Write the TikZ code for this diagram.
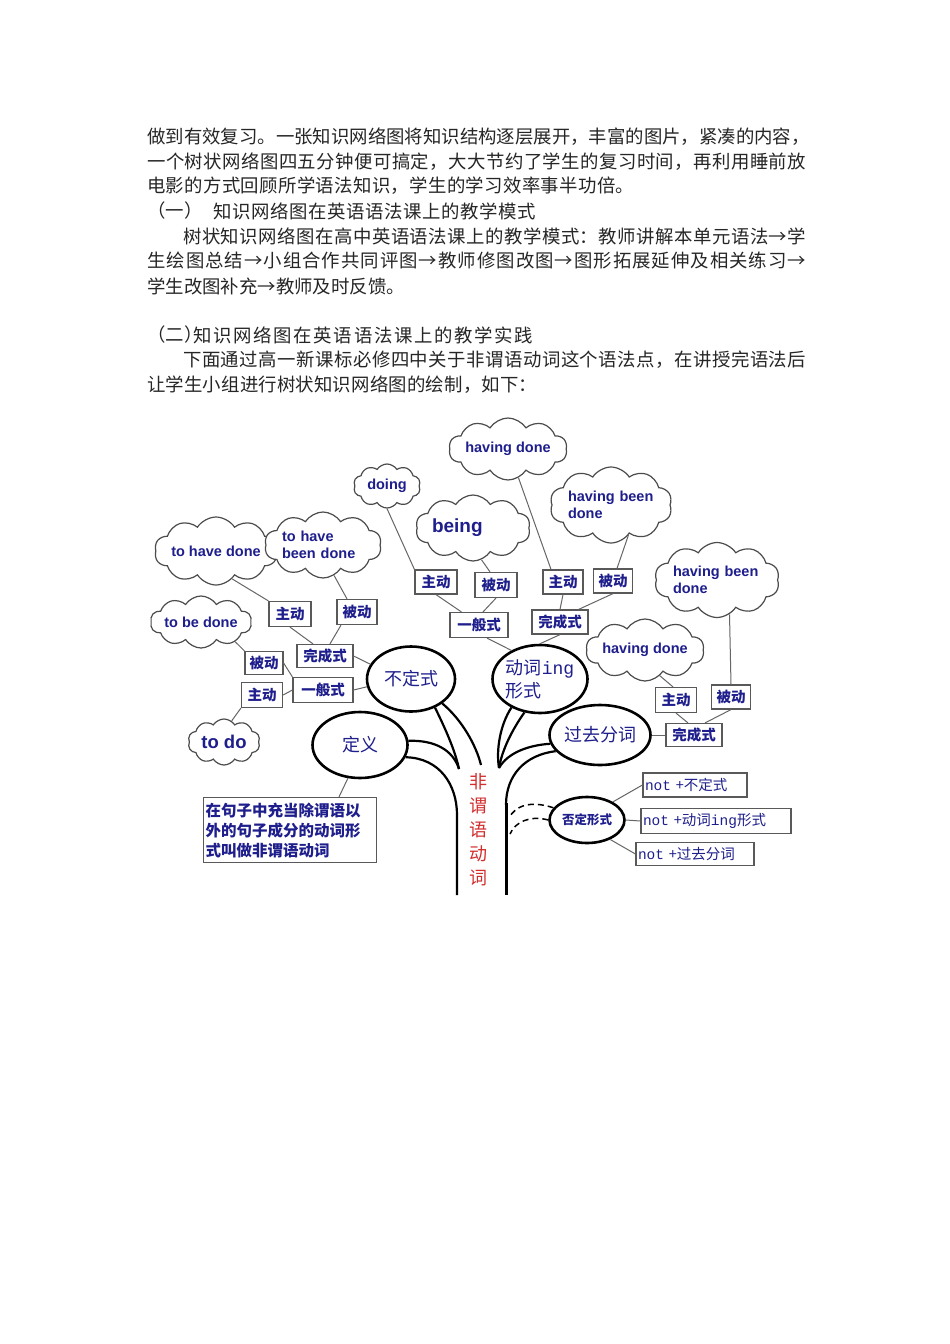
\documentclass[tikz,border=0pt]{standalone}
\usepackage{fontspec}
\setmainfont{Liberation Sans}
\newfontfamily\cjk{Noto Sans CJK SC}
\newfontfamily\monof{Liberation Mono}
\usetikzlibrary{shapes.symbols,shapes.geometric}
\definecolor{navy}{RGB}{30,30,140}
\definecolor{redt}{RGB}{210,45,45}
\ExplSyntaxOn
\NewDocumentCommand\jline{mm}{\hbox~to~#1{\tl_map_inline:nn{#2}{##1\hfil}\unskip}}
\ExplSyntaxOff
\tikzset{
  body/.style={anchor=west, inner sep=0pt, text=black!85, font=\cjk\fontsize{18.4}{20}\selectfont},
  sz/.style 2 args={minimum width=#1pt, minimum height=#2pt},
  cloudn/.style={cloud, cloud puffs=10, cloud puff arc=115, cloud ignores aspect, draw=black!70, line width=1.2pt, fill=white, inner sep=0pt, text=navy, font=\bfseries\fontsize{14.5}{16.5}\selectfont, align=center},
  box/.style={rectangle, draw=black!65, line width=1.2pt, inner sep=0pt, fill=white, text=navy, font=\cjk\bfseries\fontsize{14.5}{16}\selectfont},
  notbox/.style={box, inner xsep=2pt, align=left, font=\cjk\fontsize{14.5}{16}\selectfont},
  oval/.style={ellipse, draw=black, line width=2.6pt, inner sep=0pt, fill=white},
  ovaltext/.style={inner sep=0pt, text=navy, font=\cjk\fontsize{18}{23}\selectfont, align=left},
  link/.style={draw=black!60, line width=1pt},
  trunk/.style={draw=black, line width=2.2pt},
  dashln/.style={draw=black, line width=1.5pt, dash pattern=on 6pt off 4pt},
}
\begin{document}
\begin{tikzpicture}[x=1pt,y=-1pt]
\useasboundingbox[fill=white] (0,0) rectangle (950,1344);

% ---------- body text ----------
\node[body] (t1) at (147,137) {\jline{661pt}{做到有效复习。一张知识网络图将知识结构逐层展开，丰富的图片，紧凑的内容，}};
\node[body] (t2) at (147,162) {\jline{659pt}{一个树状网络图四五分钟便可搞定，大大节约了学生的复习时间，再利用睡前放}};
\node[body] (t3) at (147,186) {\jline{487pt}{电影的方式回顾所学语法知识，学生的学习效率事半功倍。}};
\node[body] (t4a) at (147,211) {（一）};
\node[body] (t4b) at (213,211) {\jline{323pt}{知识网络图在英语语法课上的教学模式}};
\node[body] (t5) at (183,236) {\jline{623pt}{树状知识网络图在高中英语语法课上的教学模式：教师讲解本单元语法→学}};
\node[body] (t6) at (147,261) {\jline{659pt}{生绘图总结→小组合作共同评图→教师修图改图→图形拓展延伸及相关练习→}};
\node[body] (t7) at (147,286) {\jline{257pt}{学生改图补充→教师及时反馈。}};
\node[body] (t8a) at (147,335) {（二）};
\node[body] (t8b) at (193,335) {\jline{340pt}{知识网络图在英语语法课上的教学实践}};
\node[body] (t9) at (183,360) {\jline{623pt}{下面通过高一新课标必修四中关于非谓语动词这个语法点，在讲授完语法后}};
\node[body] (t10) at (147,385) {\jline{390pt}{让学生小组进行树状知识网络图的绘制，如下：}};

% ---------- trunk ----------
\coordinate (lv) at (459,769);
\coordinate (lt) at (481,765);
\coordinate (rt) at (499,768);
\coordinate (lb) at (457,895);
\coordinate (rb) at (506,895);
\coordinate (d1) at (509,818);
\coordinate (d2) at (510,834);

% ---------- ellipses ----------
\node[oval, sz={88}{65}, label={[ovaltext]center:不定式}] (e1) at (411,679) {};
\node[oval, sz={95}{68}, label={[ovaltext]center:{动词{\monof ing}\\形式}}] (e2) at (540,679) {};
\node[oval, sz={95}{66}, label={[ovaltext]center:定义}] (e3) at (360,745) {};
\node[oval, sz={101}{60}, label={[ovaltext]center:过去分词}] (e4) at (600,735) {};
\node[oval, sz={75}{46}, label={[ovaltext, font=\cjk\bfseries\fontsize{12.5}{14}\selectfont]center:否定形式}] (e5) at (587,820) {};

\draw[trunk] (e3.345) .. controls (440,758) and (457,785) .. (457,815) -- (lb);
\draw[trunk] (e3.5) .. controls (435,740) and (453,750) .. (lv);
\draw[trunk] (e1.310) .. controls (445,728) and (455,750) .. (lv);
\draw[trunk] (e1.322) .. controls (462,720) and (476,745) .. (lt);
\draw[trunk] (e2.225) .. controls (500,725) and (496,750) .. (rt);
\draw[trunk] (e2.245) .. controls (512,730) and (502,750) .. (rt);
\draw[trunk] (e4.190) .. controls (530,745) and (508,752) .. (rt);
\draw[trunk] (e4.200) .. controls (525,755) and (506,775) .. (506,805);
\draw[draw=black, line width=3pt] (506,803) -- (rb);
\draw[dashln] (e5.160) .. controls (530,800) and (515,806) .. (d1);
\draw[dashln] (e5.180) .. controls (530,815) and (515,822) .. (d2);

\node[inner sep=0pt, text=redt, align=center, font=\cjk\fontsize{18}{24}\selectfont] (fw) at (478,830) {非\\谓\\语\\动\\词};

% ---------- clouds ----------
\node[cloudn, sz={108}{62}] (c1) at (508,449) {having done};
\node[cloudn, sz={67}{44}] (c2) at (387,486) {doing};
\node[cloudn, sz={118}{76}, align=left, text width=86pt] (c3) at (611,505) {having been\\done};
\node[cloudn, sz={100}{66}, align=left, text width=82pt, font=\bfseries\fontsize{19}{21}\selectfont] (c4) at (473,528) {being};
\node[cloudn, sz={112}{68}] (c5) at (216,551) {to have done};
\node[cloudn, sz={103}{66}, align=left, text width=82pt] (c6) at (323,545) {to have\\been done};
\node[cloudn, sz={119}{75}, align=left, text width=88pt] (c7) at (717,580) {having been\\done};
\node[cloudn, sz={92}{52}] (c8) at (201,622) {to be done};
\node[cloudn, sz={112}{62}] (c9) at (645,650) {having done};
\node[cloudn, sz={72}{46}, font=\bfseries\fontsize{18.5}{20}\selectfont] (c10) at (224,742) {to do};

% ---------- boxes ----------
\node[box, sz={42}{25}] (b1) at (290,614) {主动};
\node[box, sz={40}{25}] (b2) at (357,612) {被动};
\node[box, sz={56}{23}] (b3) at (325,656) {完成式};
\node[box, sz={38}{23}] (b4) at (264,663) {被动};
\node[box, sz={60}{25}] (b5) at (323,690) {一般式};
\node[box, sz={41}{25}] (b6) at (262,695) {主动};
\node[box, sz={42}{24}] (b7) at (436,582) {主动};
\node[box, sz={42}{25}] (b8) at (496,585) {被动};
\node[box, sz={58}{25}] (b9) at (479,625) {一般式};
\node[box, sz={40}{24}] (b10) at (563,582) {主动};
\node[box, sz={39}{24}] (b11) at (613,581) {被动};
\node[box, sz={56}{24}] (b12) at (560,622) {完成式};
\node[box, sz={41}{25}] (b13) at (676,700) {主动};
\node[box, sz={39}{24}] (b14) at (731,697) {被动};
\node[box, sz={56}{23}] (b15) at (694,735) {完成式};
\node[notbox, sz={104}{24}, text width=100pt] (n1) at (695,785) {{\monof not} +不定式};
\node[notbox, sz={150}{25}, text width=146pt] (n2) at (716,821) {{\monof not} +动词{\monof ing}形式};
\node[notbox, sz={118}{23}, text width=114pt] (n3) at (695,854) {{\monof not} +过去分词};
\node[box, sz={173}{65}, inner xsep=2pt, text width=169pt, align=left, font=\cjk\bfseries\fontsize{15.5}{20}\selectfont] (def) at (290,830) {在句子中充当除谓语以\\外的句子成分的动词形\\式叫做非谓语动词};

% ---------- links ----------
\draw[link] (c2.south) -- (b7.north west);
\draw[link] (b7.south) -- ([xshift=12pt]b9.north west);
\draw[link] (b8.south) -- ([xshift=4pt]b9.north);
\draw[link] (c4.285) -- ([xshift=-6pt]b8.north);
\draw[link] ([xshift=8pt]b9.south) -- (e2.135);
\draw[link] (c1.290) -- ([xshift=-12pt]b10.north);
\draw[link] (c3.300) -- ([xshift=4pt]b11.north);
\draw[link] (b10.south) -- (b12.north);
\draw[link] (b11.south) -- ([xshift=-10pt]b12.north east);
\draw[link] (b12.south) -- (e2.north);
\draw[link] (c5.300) -- (b1.north west);
\draw[link] (c6.290) -- ([xshift=-10pt]b2.north);
\draw[link] (b1.south) -- ([xshift=-12pt]b3.north);
\draw[link] ([xshift=-16pt]b2.south) -- ([xshift=5pt]b3.north);
\draw[link] (b3.east) -- (e1.160);
\draw[link] (b5.east) -- (e1.190);
\draw[link] (b4.east) -- (b5.north west);
\draw[link] (b6.east) -- (b5.west);
\draw[link] (c8.330) -- (b4.north west);
\draw[link] (b6.south west) -- (c10.70);
\draw[link] (e3.250) -- ([xshift=49pt]def.north);
\draw[link] (c7.290) -- (b14.north);
\draw[link] (c9.300) -- ([xshift=-3pt]b13.north);
\draw[link] (b13.south) -- ([xshift=-6pt]b15.north);
\draw[link] (b14.south) -- ([xshift=11pt]b15.north);
\draw[link] (b15.west) -- (e4.east);
\draw[link] (e5.35) -- (n1.west);
\draw[link] (e5.east) -- (n2.west);
\draw[link] (e5.320) -- (n3.west);
\end{tikzpicture}
\end{document}
